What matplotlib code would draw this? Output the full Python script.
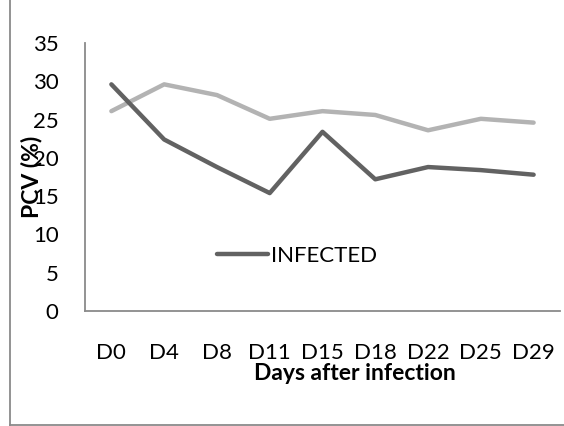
import matplotlib
matplotlib.use("Agg")
import matplotlib.pyplot as plt
from matplotlib.lines import Line2D

days = ["D0", "D4", "D8", "D11", "D15", "D18", "D22", "D25", "D29"]
infected = [29.6, 22.4, 18.8, 15.4, 23.4, 17.2, 18.8, 18.4, 17.8]
control = [26.1, 29.6, 28.2, 25.1, 26.1, 25.6, 23.6, 25.1, 24.6]
yticks = [0, 5, 10, 15, 20, 25, 30, 35]

plt.rcParams["font.family"] = ["Lato", "DejaVu Sans"]

fig = plt.figure(figsize=(5.64, 4.26), dpi=100)
ax = fig.add_axes([85 / 564, 1 - 311 / 426, 475 / 564, 268 / 426])

x = list(range(len(days)))
ax.plot(x, control, color="#b3b3b3", linewidth=3.2, solid_capstyle="round")
ax.plot(x, infected, color="#626262", linewidth=3.2, solid_capstyle="round",
        label="INFECTED")

ax.set_xlim(-0.5, len(days) - 0.5)
ax.set_ylim(0, 35)
ax.set_yticks(yticks)
ax.set_xticks(x)
ax.set_xticklabels(days)
ax.tick_params(axis="both", length=0, labelsize=16)
ax.tick_params(axis="y", pad=19)
ax.tick_params(axis="x", pad=23)

for side in ["top", "right"]:
    ax.spines[side].set_visible(False)
for side in ["left", "bottom"]:
    ax.spines[side].set_color("#8a8a8a")
    ax.spines[side].set_linewidth(1.3)

fig.text(32 / 564, 1 - 177 / 426, "PCV (%)", rotation=90, fontsize=16.5,
         fontweight="bold", ha="center", va="center")
fig.text(355 / 564, 1 - 374 / 426, "Days after infection", fontsize=16.5,
         fontweight="bold", ha="center", va="center")

ax.legend(loc="center", bbox_to_anchor=(297 / 564, 1 - 256 / 426),
          bbox_transform=fig.transFigure, frameon=False, fontsize=16,
          handlelength=2.3, handletextpad=0.1)

# outer chart border (cropped)
fig.add_artist(Line2D([10 / 564, 10 / 564], [0, 1], color="#8a8a8a",
                      linewidth=1.3, transform=fig.transFigure))
fig.add_artist(Line2D([10 / 564, 1], [1 / 426, 1 / 426], color="#8a8a8a",
                      linewidth=1.3, transform=fig.transFigure))

fig.savefig("out.png", dpi=100)
